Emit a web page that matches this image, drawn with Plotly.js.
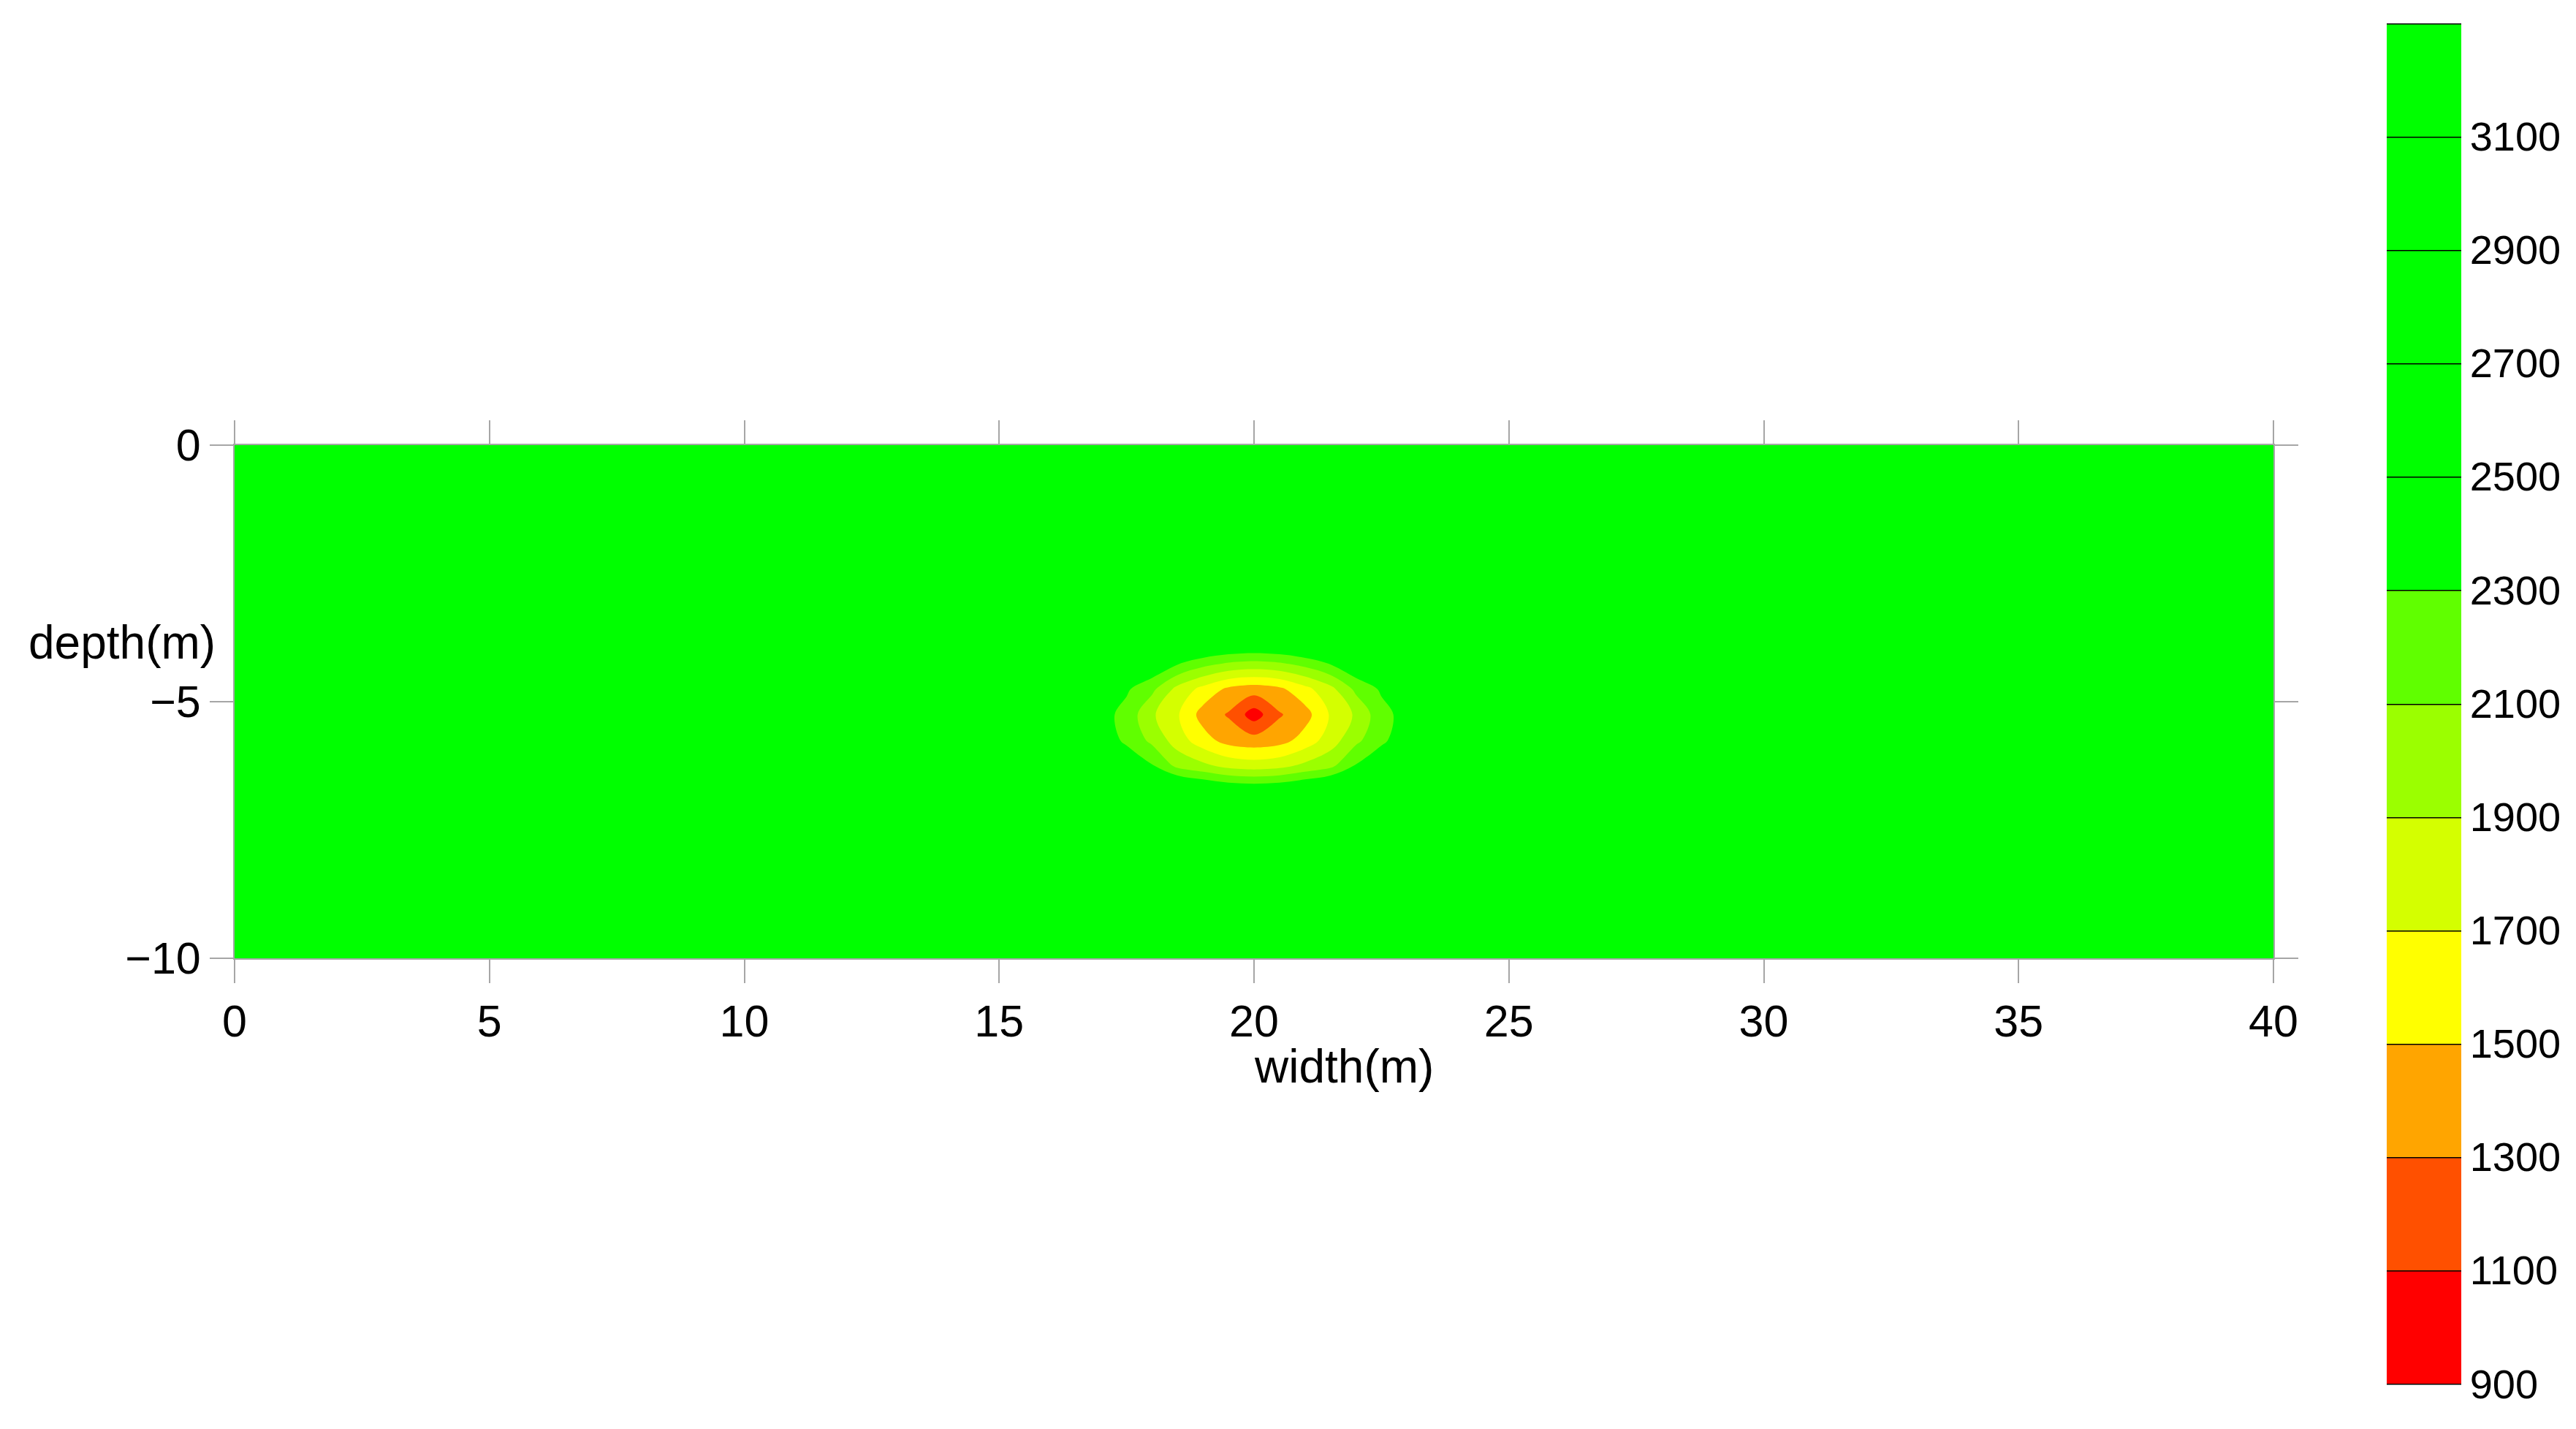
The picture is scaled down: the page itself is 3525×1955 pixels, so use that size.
<!DOCTYPE html>
<html>
<head>
<meta charset="utf-8">
<script src="https://cdn.plot.ly/plotly-3.0.1.min.js"></script>
<style>
  body { margin: 0; background: #fff; }
  #section { width: 3525px; height: 1955px; }
</style>
</head>
<body>
<div id="section"></div>
<script>
// grid positions (m), finer around the anomaly
const widthM = [0, 5, 10, 15, 16, 16.5, 17, 17.5, 18, 18.5, 19, 19.5, 20, 20.5, 21, 21.5, 22, 22.5, 23, 23.5, 24, 25, 30, 35, 40];
const depthM = [0, -2, -3.25, -3.75, -4.25, -4.75, -5.25, -5.75, -6.25, -6.75, -7.25, -8, -10];

const vel = [
  [3100,3100,3100,3100, 3100,3100,3100,3100,3100,3100,3100,3100,3100,3100,3100,3100,3100,3100,3100,3100,3100, 3100,3100,3100,3100],
  [3100,3100,3100,3100, 3100,3100,3100,3100,3100,3100,3100,3100,3100,3100,3100,3100,3100,3100,3100,3100,3100, 3100,3100,3100,3100],
  [3100,3100,3100,3100, 3100,3100,3100,3090,3075,3060,3050,3035,3030,3035,3050,3060,3075,3090,3100,3100,3100, 3100,3100,3100,3100],
  [3100,3100,3100,3100, 3100,3080,3040,2980,2900,2820,2750,2700,2680,2700,2750,2820,2900,2980,3040,3080,3100, 3100,3100,3100,3100],
  [3100,3100,3100,3100, 3055,2975,2855,2695,2500,2320,2180,2085,2050,2085,2180,2320,2500,2695,2855,2975,3055, 3100,3100,3100,3100],
  [3100,3100,3100,3100, 2980,2840,2580,2330,2150,1840,1640,1460,1400,1460,1640,1840,2150,2330,2580,2840,2980, 3100,3100,3100,3100],
  [3100,3100,3100,3100, 2950,2760,2380,2230,1930,1720,1420,1280,1000,1280,1420,1720,1930,2230,2380,2760,2950, 3100,3100,3100,3100],
  [3100,3100,3100,3100, 2970,2810,2420,2260,2050,1800,1580,1420,1380,1420,1580,1800,2050,2260,2420,2810,2970, 3100,3100,3100,3100],
  [3100,3100,3100,3100, 3040,2940,2700,2450,2320,2050,1950,1840,1800,1840,1950,2050,2320,2450,2700,2940,3040, 3100,3100,3100,3100],
  [3100,3100,3100,3100, 3100,3060,3000,2915,2815,2710,2610,2545,2520,2545,2610,2710,2815,2915,3000,3060,3100, 3100,3100,3100,3100],
  [3100,3100,3100,3100, 3100,3100,3100,3075,3050,3020,2990,2960,2950,2960,2990,3020,3050,3075,3100,3100,3100, 3100,3100,3100,3100],
  [3100,3100,3100,3100, 3100,3100,3100,3100,3100,3100,3100,3100,3100,3100,3100,3100,3100,3100,3100,3100,3100, 3100,3100,3100,3100],
  [3100,3100,3100,3100, 3100,3100,3100,3100,3100,3100,3100,3100,3100,3100,3100,3100,3100,3100,3100,3100,3100, 3100,3100,3100,3100]
];

// contour levels 900..3300 step 200, one colour per band
// (first and last are the half bands plotly adds below 900 / above 3300)
const LEVEL_START = 900, LEVEL_END = 3300, LEVEL_STEP = 200;
const bandColors = ['#ffffff', '#ff0000', '#ff5000', '#ffa500', '#ffff00', '#d4ff00', '#9bff00',
                    '#60ff00', '#00ff00', '#00ff00', '#00ff00', '#00ff00', '#00ff00', '#ffffff'];
const cbTicks = [900, 1100, 1300, 1500, 1700, 1900, 2100, 2300, 2500, 2700, 2900, 3100];

const FONT = 'Liberation Sans, Arial, sans-serif';
const GREY = '#a6a6a6';

const nb = bandColors.length - 1;
const colorscale = bandColors.map((c, k) => [k / nb, c]);
const contours = {start: LEVEL_START, end: LEVEL_END, size: LEVEL_STEP, coloring: 'fill'};

var flat = vel.flat();
var zlo = Math.min(...flat), zhi = Math.max(...flat);

var section = {
  type: 'contour',
  x: widthM, y: depthM, z: vel,
  autocontour: false,
  contours: Object.assign({showlines: false}, contours),
  colorscale: colorscale,
  line: {width: 0, smoothing: 1},
  showscale: false,
  hoverinfo: 'skip'
};

// only here for the colour bar with its black band lines;
// its data sits outside the x range so nothing is drawn in the plot
var scaleOnly = {
  type: 'contour',
  x: [50, 51], y: [-6, -4], z: [[zlo, zhi], [zlo, zhi]],
  autocontour: false,
  contours: Object.assign({showlines: true}, contours),
  colorscale: colorscale,
  line: {width: 1.5, color: '#000', smoothing: 0},
  hoverinfo: 'skip',
  colorbar: {
    x: 1.0556, xanchor: 'left', xpad: 0,
    y: 0.497, yanchor: 'middle', ypad: 0,
    lenmode: 'pixels', len: 2017,
    thickness: 102,
    outlinewidth: 0,
    ticks: '',
    tickmode: 'array', tickvals: cbTicks,
    tickfont: {family: FONT, size: 56, color: '#000'}
  }
};

var axisCommon = {
  showgrid: false, zeroline: false,
  showline: true, linecolor: GREY, linewidth: 2,
  mirror: 'ticks', ticks: 'outside', ticklen: 32, tickwidth: 2, tickcolor: GREY,
  dtick: 5,
  tickfont: {family: FONT, size: 61, color: '#000'}
};

var layout = {
  width: 3525, height: 1955,
  margin: {l: 321, r: 414, t: 609, b: 644, autoexpand: false},
  paper_bgcolor: '#fff', plot_bgcolor: '#fff',
  showlegend: false,
  font: {family: FONT, color: '#000'},
  xaxis: Object.assign({}, axisCommon, {range: [0, 40], tick0: 0}),
  yaxis: Object.assign({}, axisCommon, {range: [-10, 0], tick0: 0}),
  annotations: [
    {text: 'width(m)', xref: 'paper', yref: 'paper', x: 0.544, y: -0.211,
     xanchor: 'center', yanchor: 'middle', showarrow: false,
     font: {family: FONT, size: 64, color: '#000'}},
    {text: 'depth(m)', xref: 'paper', yref: 'paper', x: -0.0086, y: 0.615,
     xanchor: 'right', yanchor: 'middle', showarrow: false,
     font: {family: FONT, size: 64, color: '#000'}}
  ]
};

Plotly.newPlot('section', [section, scaleOnly], layout,
               {displayModeBar: false, staticPlot: true});
</script>
</body>
</html>
